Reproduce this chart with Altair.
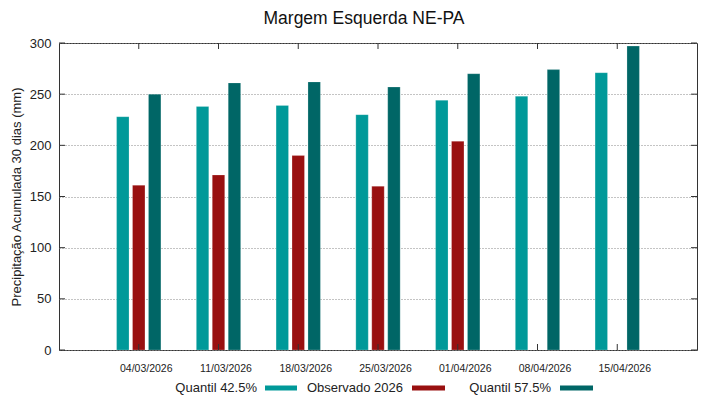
import json
import altair as alt
import pandas as pd

title_text = "Margem Esquerda NE-PA"
dates = ["04/03/2026", "11/03/2026", "18/03/2026", "25/03/2026",
         "01/04/2026", "08/04/2026", "15/04/2026"]
series = ["Quantil 42.5%", "Observado 2026", "Quantil 57.5%"]
q425 = [228, 238, 239, 230, 244, 248, 271]
obs = [161, 171, 190, 160, 204, None, None]
q575 = [250, 261, 262, 257, 270, 274, 297]
colors = ["#009999", "#991010", "#006666"]
yticks = [0, 50, 100, 150, 200, 250, 300]

W, H = 638, 307
offsets = {series[0]: -0.2, series[1]: 0.0, series[2]: 0.2}
rows = []
for s, vals in zip(series, [q425, obs, q575]):
    for i, v in enumerate(vals):
        if v is None:
            continue
        rows.append({"idx": i, "date": dates[i], "series": s, "value": v,
                     "off": offsets[s]})
df = pd.DataFrame(rows)

FONT = "Liberation Sans"
xscale = alt.Scale(domain=[-1, 7], nice=False, zero=False, padding=0)
yscale = alt.Scale(domain=[0, 300], nice=False, padding=0)
label_expr = json.dumps(dates) + "[datum.value]"

bars = alt.Chart(df).transform_calculate(
    x1="datum.idx + datum.off - 0.078",
    x2="datum.idx + datum.off + 0.078",
).mark_bar(strokeWidth=0.6, stroke="#ffffff", strokeOpacity=0.35).encode(
    x=alt.X("x1:Q", scale=xscale,
            axis=alt.Axis(values=list(range(len(dates))), labelExpr=label_expr,
                          title=None, ticks=False, domain=False, grid=False,
                          labelFontSize=10.5, labelFont=FONT, labelColor="#222",
                          labelPadding=18, labelOffset=7, labelBaseline="middle")),
    x2="x2:Q",
    y=alt.Y("value:Q", scale=yscale,
            axis=alt.Axis(values=yticks, title="Precipitação Acumulada 30 dias (mm)",
                          ticks=False, domain=False, grid=True,
                          gridDash=[1, 2], gridColor="#888888", gridWidth=1,
                          labelFontSize=13, labelFont=FONT, labelColor="#222",
                          labelPadding=8, titleFont=FONT, titleFontSize=13,
                          titleFontWeight="normal", titleColor="#222",
                          titlePadding=6)),
    y2=alt.datum(0),
    color=alt.Color("series:N", scale=alt.Scale(domain=series, range=colors),
                    legend=None),
)

ydf = pd.DataFrame({"v": yticks})
xdf = pd.DataFrame({"p": list(range(len(dates)))})
tick_layers = [
    alt.Chart(ydf).mark_rule(color="#333", strokeWidth=1).encode(
        y=alt.Y("v:Q", scale=yscale), x=alt.value(0), x2=alt.value(6)),
    alt.Chart(ydf).mark_rule(color="#333", strokeWidth=1).encode(
        y=alt.Y("v:Q", scale=yscale), x=alt.value(W), x2=alt.value(W - 6)),
    alt.Chart(xdf).mark_rule(color="#333", strokeWidth=1).encode(
        x=alt.X("p:Q", scale=xscale), y=alt.value(H), y2=alt.value(H - 6)),
    alt.Chart(xdf).mark_rule(color="#333", strokeWidth=1).encode(
        x=alt.X("p:Q", scale=xscale), y=alt.value(0), y2=alt.value(6)),
]

# legend (gnuplot style: text then sample)
leg_text_right = [198, 344, 492]
leg_sw = [(206, 238), (353, 386), (501, 534)]
leg_y = 345
legend_layers = []
for name, col, tx, (s0, s1) in zip(series, colors, leg_text_right, leg_sw):
    ldf = pd.DataFrame({"label": [name]})
    legend_layers.append(
        alt.Chart(ldf).mark_text(align="right", baseline="middle", font=FONT,
                                 fontSize=13, color="#222").encode(
            text="label:N", x=alt.value(tx), y=alt.value(leg_y)))
    legend_layers.append(
        alt.Chart(ldf).mark_rule(color=col, strokeWidth=5).encode(
            x=alt.value(s0), x2=alt.value(s1), y=alt.value(leg_y)))

title_layer = alt.Chart(pd.DataFrame({"t": [title_text]})).mark_text(
    align="center", baseline="alphabetic", font=FONT, fontSize=17.5,
    color="#111").encode(text="t:N", x=alt.value(305), y=alt.value(-19))

chart = alt.layer(bars, *tick_layers, *legend_layers, title_layer).properties(
    width=W, height=H,
    autosize=alt.AutoSizeParams(type="none"),
    padding={"left": 51, "top": 35, "right": 14, "bottom": 49},
).configure_view(stroke="#333", strokeWidth=1)

chart.save("out.html", embed_options={"renderer": "svg", "actions": False})
